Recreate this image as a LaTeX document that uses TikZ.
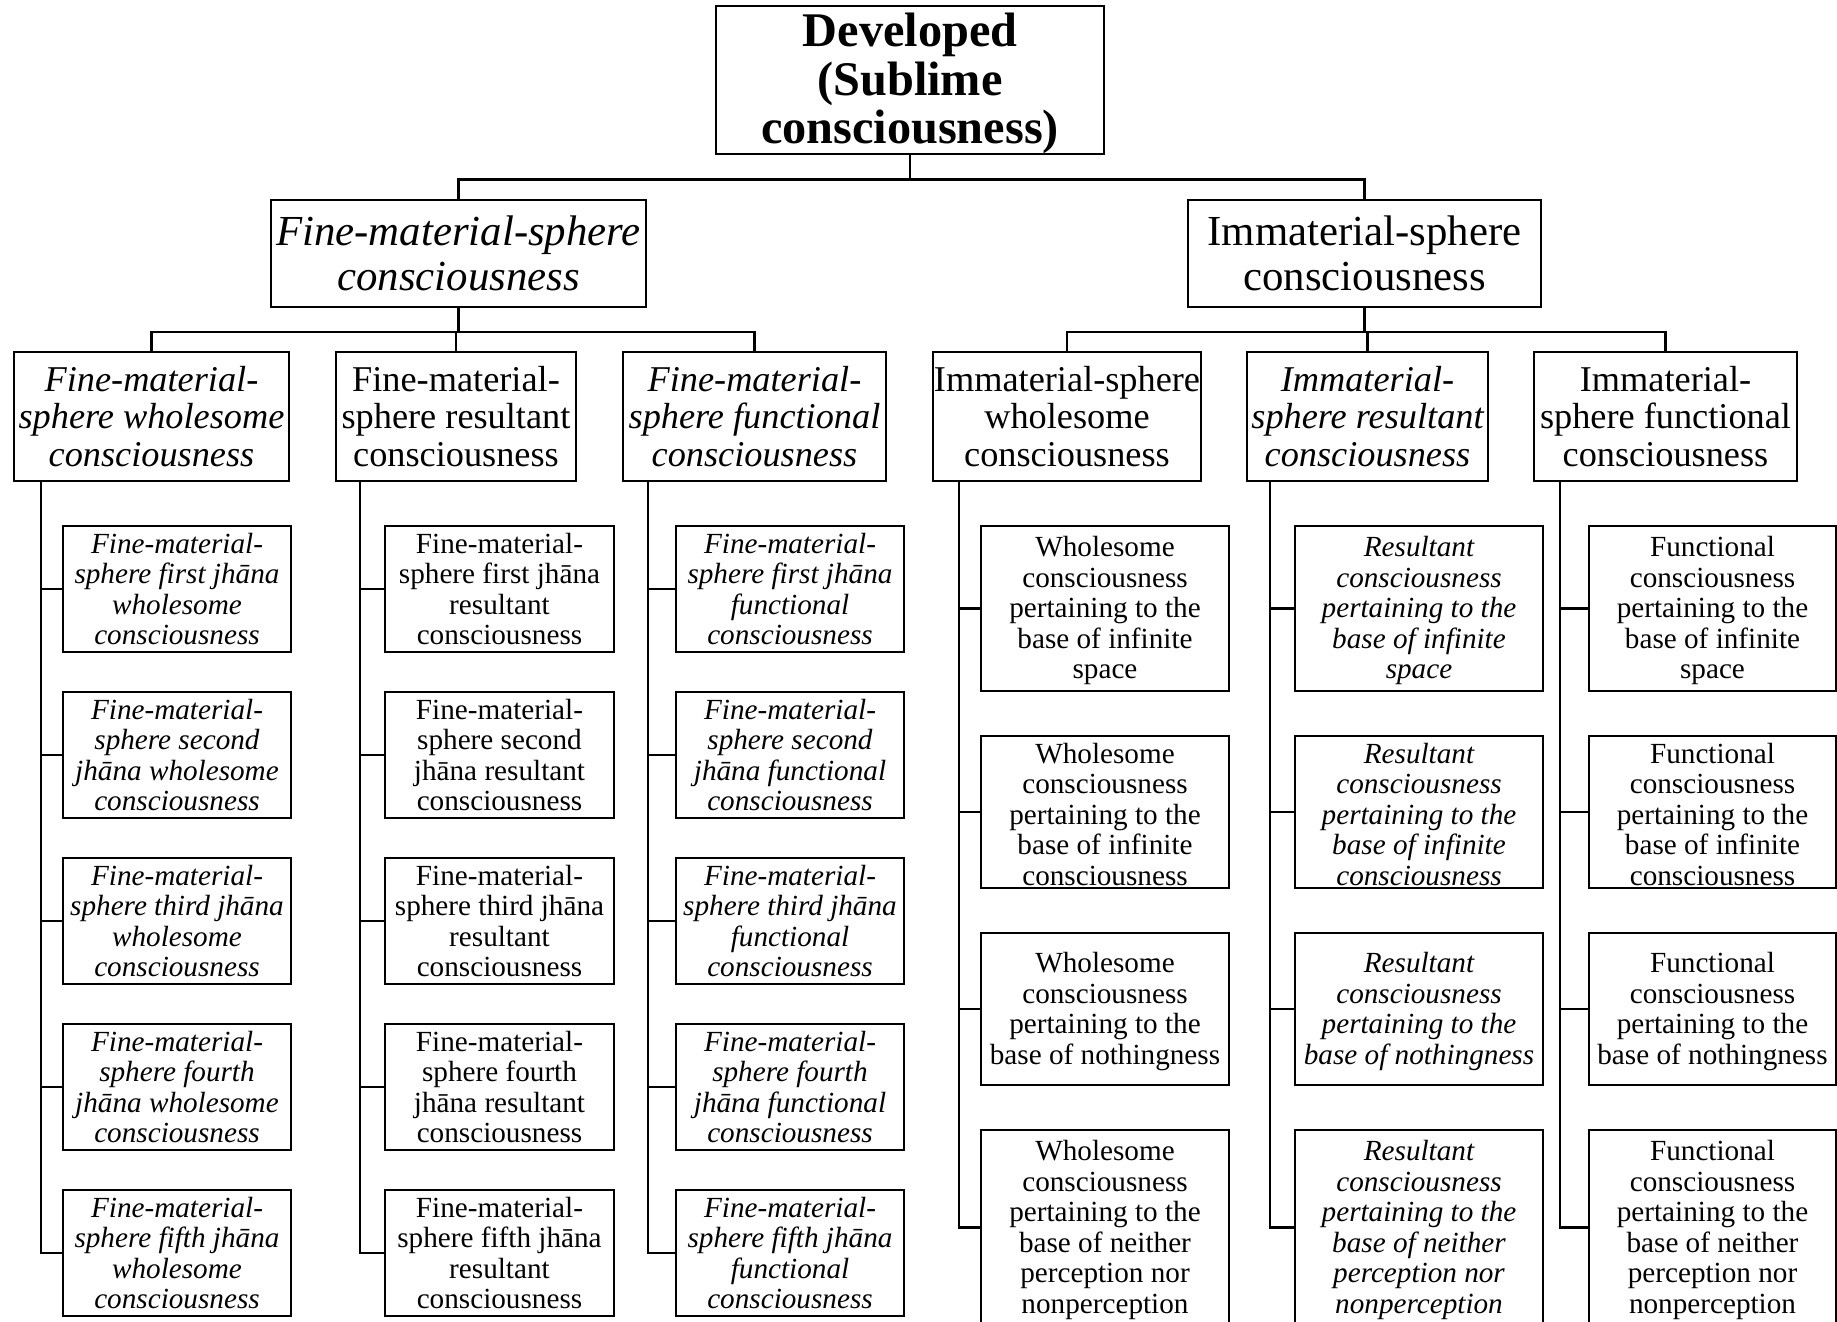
\documentclass[tikz,border=0pt]{standalone}
\usepackage{fontspec}
\setmainfont{Liberation Serif}
% place a box: name, style, centre x, centre y, width, height, text
\newcommand\placebox[7]{\node[#2, minimum width=#5pt, minimum height=#6pt] (#1) at (#3,#4) {#7};}
% invisible prop that lowers a block of lines inside its box
\newcommand\lowerby[1]{\rule{0pt}{#1}}
\begin{document}
\begin{tikzpicture}[x=1pt,y=-1pt,
  box/.style={draw, line width=2.4pt, inner sep=0pt, align=center, anchor=center},
  conn/.style={line width=2.2pt},
  rootbox/.style={box, font=\fontsize{48.3}{48.6}\selectfont\bfseries},
  topbox/.style={box, font=\fontsize{42.8}{44.5}\selectfont},
  topboxit/.style={box, font=\fontsize{42.8}{44.5}\selectfont\itshape},
  midbox/.style={box, font=\fontsize{36.3}{37.3}\selectfont},
  midboxit/.style={box, font=\fontsize{36.3}{37.3}\selectfont\itshape},
  leaf/.style={box, font=\fontsize{29.2}{30.5}\selectfont},
  leafit/.style={box, font=\fontsize{29.2}{30.5}\selectfont\itshape}]
\fill[white] (0,0) rectangle (1837,1322);
\useasboundingbox (0,0) rectangle (1837,1322);

% root and the two spheres
\placebox{root}{rootbox}{910}{80}{388}{146}{\lowerby{41pt}Developed\\(Sublime\\consciousness)}
\placebox{fm}{topboxit}{458.5}{253.5}{375}{107}{Fine-material-sphere\\consciousness}
\placebox{im}{topbox}{1364.5}{253.5}{353}{107}{Immaterial-sphere\\consciousness}

% third level
\placebox{fmw}{midboxit}{151.5}{416.5}{275}{129}{Fine-material-\\sphere wholesome\\consciousness}
\placebox{fmr}{midbox}{456}{416.5}{240}{129}{Fine-material-\\sphere resultant\\consciousness}
\placebox{fmf}{midboxit}{754.5}{416.5}{263}{129}{Fine-material-\\sphere functional\\consciousness}
\placebox{imw}{midbox}{1067}{416.5}{268}{129}{Immaterial-sphere\\wholesome\\consciousness}
\placebox{imr}{midboxit}{1367.5}{416.5}{241}{129}{Immaterial-\\sphere resultant\\consciousness}
\placebox{imf}{midbox}{1665.5}{416.5}{263}{129}{Immaterial-\\sphere functional\\consciousness}

% fine-material-sphere jhanas
\placebox{fmw1}{leafit}{177}{589}{228}{126}{Fine-material-\\sphere first jhāna\\wholesome\\consciousness}
\placebox{fmw2}{leafit}{177}{755}{228}{126}{Fine-material-\\sphere second\\jhāna wholesome\\consciousness}
\placebox{fmw3}{leafit}{177}{921}{228}{126}{Fine-material-\\sphere third jhāna\\wholesome\\consciousness}
\placebox{fmw4}{leafit}{177}{1087}{228}{126}{Fine-material-\\sphere fourth\\jhāna wholesome\\consciousness}
\placebox{fmw5}{leafit}{177}{1253}{228}{126}{Fine-material-\\sphere fifth jhāna\\wholesome\\consciousness}

\placebox{fmr1}{leaf}{499.5}{589}{229}{126}{Fine-material-\\sphere first jhāna\\resultant\\consciousness}
\placebox{fmr2}{leaf}{499.5}{755}{229}{126}{Fine-material-\\sphere second\\jhāna resultant\\consciousness}
\placebox{fmr3}{leaf}{499.5}{921}{229}{126}{Fine-material-\\sphere third jhāna\\resultant\\consciousness}
\placebox{fmr4}{leaf}{499.5}{1087}{229}{126}{Fine-material-\\sphere fourth\\jhāna resultant\\consciousness}
\placebox{fmr5}{leaf}{499.5}{1253}{229}{126}{Fine-material-\\sphere fifth jhāna\\resultant\\consciousness}

\placebox{fmf1}{leafit}{790}{589}{228}{126}{Fine-material-\\sphere first jhāna\\functional\\consciousness}
\placebox{fmf2}{leafit}{790}{755}{228}{126}{Fine-material-\\sphere second\\jhāna functional\\consciousness}
\placebox{fmf3}{leafit}{790}{921}{228}{126}{Fine-material-\\sphere third jhāna\\functional\\consciousness}
\placebox{fmf4}{leafit}{790}{1087}{228}{126}{Fine-material-\\sphere fourth\\jhāna functional\\consciousness}
\placebox{fmf5}{leafit}{790}{1253}{228}{126}{Fine-material-\\sphere fifth jhāna\\functional\\consciousness}

% immaterial-sphere bases
\placebox{imw1}{leaf}{1105}{608.5}{248}{165}{\lowerby{25pt}Wholesome\\consciousness\\pertaining to the\\base of infinite\\space}
\placebox{imw2}{leaf}{1105}{812}{248}{152}{\lowerby{25pt}Wholesome\\consciousness\\pertaining to the\\base of infinite\\consciousness}
\placebox{imw3}{leaf}{1105}{1009}{248}{152}{\lowerby{25pt}Wholesome\\consciousness\\pertaining to the\\base of nothingness}
\placebox{imw4}{leaf}{1105}{1227.5}{248}{195}{\lowerby{25pt}Wholesome\\consciousness\\pertaining to the\\base of neither\\perception nor\\nonperception}

\placebox{imr1}{leafit}{1419}{608.5}{248}{165}{\lowerby{25pt}Resultant\\consciousness\\pertaining to the\\base of infinite\\space}
\placebox{imr2}{leafit}{1419}{812}{248}{152}{\lowerby{25pt}Resultant\\consciousness\\pertaining to the\\base of infinite\\consciousness}
\placebox{imr3}{leafit}{1419}{1009}{248}{152}{\lowerby{25pt}Resultant\\consciousness\\pertaining to the\\base of nothingness}
\placebox{imr4}{leafit}{1419}{1227.5}{248}{195}{\lowerby{25pt}Resultant\\consciousness\\pertaining to the\\base of neither\\perception nor\\nonperception}

\placebox{imf1}{leaf}{1712.5}{608.5}{247}{165}{\lowerby{25pt}Functional\\consciousness\\pertaining to the\\base of infinite\\space}
\placebox{imf2}{leaf}{1712.5}{812}{247}{152}{\lowerby{25pt}Functional\\consciousness\\pertaining to the\\base of infinite\\consciousness}
\placebox{imf3}{leaf}{1712.5}{1009}{247}{152}{\lowerby{25pt}Functional\\consciousness\\pertaining to the\\base of nothingness}
\placebox{imf4}{leaf}{1712.5}{1227.5}{247}{195}{\lowerby{25pt}Functional\\consciousness\\pertaining to the\\base of neither\\perception nor\\nonperception}

% tree connectors
\draw[conn] (root.south) -- ++(0,24) -| (fm.north);
\draw[conn] (root.south) -- ++(0,24) -| (im.north);
\foreach \n in {fmw,fmr,fmf} \draw[conn] (fm.south) -- ++(0,24) -| (\n.north);
\foreach \n in {imw,imr,imf} \draw[conn] (im.south) -- ++(0,24) -| (\n.north);

% column trunks
\coordinate (fmwT) at (41,481);
\coordinate (fmrT) at (360,481);
\coordinate (fmfT) at (648,481);
\coordinate (imwT) at (959,481);
\coordinate (imrT) at (1270,481);
\coordinate (imfT) at (1560,481);
\foreach \n in {fmw,fmr,fmf}
  \foreach \i in {1,...,5} \draw[conn] (\n T) |- (\n\i.west);
\foreach \n in {imw,imr,imf}
  \foreach \i in {1,...,4} \draw[conn] (\n T) |- (\n\i.west);
\end{tikzpicture}
\end{document}
